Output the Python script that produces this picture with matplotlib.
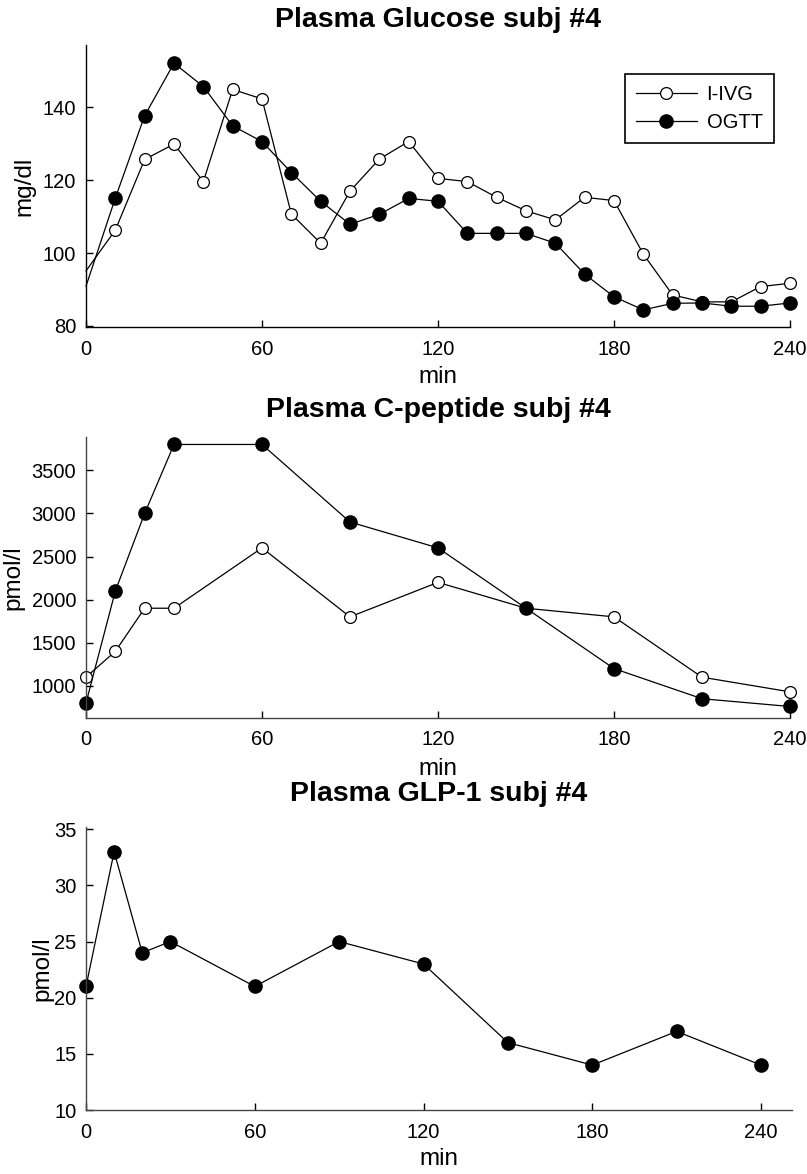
import matplotlib
matplotlib.use("Agg")
import matplotlib.pyplot as plt

plt.rcParams['font.family'] = ['Liberation Sans', 'DejaVu Sans']

# Glucose, sampled every 10 min
glucose_min = [0, 10, 20, 30, 40, 50, 60, 70, 80, 90, 100, 110, 120,
               130, 140, 150, 160, 170, 180, 190, 200, 210, 220, 230, 240]
glucose_ivg = [95.1, 106.3, 125.7, 129.9, 119.6, 144.9, 142.3, 110.7, 102.7,
               117.0, 125.8, 130.6, 120.5, 119.6, 115.3, 111.6, 109.1, 115.3,
               114.4, 99.7, 88.5, 86.6, 86.6, 90.8, 91.7]
glucose_ogtt = [90.9, 115.1, 137.7, 152.1, 145.7, 134.9, 130.6, 122.1, 114.2,
                107.9, 110.6, 115.0, 114.2, 105.4, 105.4, 105.4, 102.7, 94.2,
                88.0, 84.4, 86.2, 86.3, 85.4, 85.4, 86.3]

# C-peptide and GLP-1 sampling times
hormone_min = [0, 10, 20, 30, 60, 90, 120, 150, 180, 210, 240]
cpep_ivg = [1100, 1400, 1900, 1900, 2600, 1800, 2200, 1900, 1800, 1100, 930]
cpep_ogtt = [800, 2100, 3000, 3800, 3800, 2900, 2600, 1900, 1200, 850, 760]
glp1_ogtt = [21, 33, 24, 25, 21, 25, 23, 16, 14, 17, 14]

xticks = [0, 60, 120, 180, 240]

W, H = 807, 1174
fig = plt.figure(figsize=(W / 100, H / 100), dpi=100)


def make_axes(left, right, top, bottom):
    return fig.add_axes([left / W, 1 - bottom / H, (right - left) / W, (bottom - top) / H])


def style(ax, spine_color, ylab, ylab_x, title, title_pad, xlab_y):
    for s in ('top', 'right'):
        ax.spines[s].set_visible(False)
    for s in ('left', 'bottom'):
        ax.spines[s].set_color(spine_color)
        ax.spines[s].set_linewidth(1.0)
    ax.tick_params(direction='in', length=5, width=1.0, colors='black',
                   labelsize=14.5, pad=7)
    ax.tick_params(axis='x', pad=9)
    ax.set_xticks(xticks)
    ax.set_ylabel(ylab, fontsize=17.5)
    ax.yaxis.set_label_coords(ylab_x, 0.5)
    ax.set_xlabel('min', fontsize=17.5)
    ax.xaxis.set_label_coords(0.5, xlab_y)
    ax.set_title(title, fontsize=20.5, fontweight='bold', pad=title_pad)
    ax.patch.set_alpha(0)


open_kw = dict(color='black', lw=0.9, marker='o', ms=8.5, mfc='white',
               mec='black', mew=0.9)
fill_kw = dict(color='black', lw=0.9, marker='o', ms=9.5, mfc='black',
               mec='black')

# --- Glucose ---
ax1 = make_axes(86, 790, 45, 327)
ax1.plot(glucose_min, glucose_ivg, markevery=slice(1, None), label='I-IVG',
         clip_on=False, **open_kw)
ax1.plot(glucose_min, glucose_ogtt, markevery=slice(1, None), label='OGTT',
         clip_on=False, **fill_kw)
ax1.set_xlim(0, 240)
ax1.set_ylim(79.7, 157.1)
ax1.set_yticks([80, 100, 120, 140])
style(ax1, 'black', 'mg/dl', -0.072, 'Plasma Glucose subj #4', 13, -0.14)
leg = ax1.legend(loc='upper right', bbox_to_anchor=(0.977, 0.897),
                 borderaxespad=0, fancybox=False, framealpha=1,
                 edgecolor='black', fontsize=14.5, handlelength=3.0,
                 handletextpad=0.5, borderpad=0.55, labelspacing=0.45)
leg.get_frame().set_linewidth(1.2)

# --- C-peptide ---
ax2 = make_axes(86, 790, 436.7, 717.7)
ax2.plot(hormone_min, cpep_ivg, clip_on=False, **open_kw)
ax2.plot(hormone_min, cpep_ogtt, clip_on=False, **fill_kw)
ax2.set_xlim(0, 240)
ax2.set_ylim(630, 3890)
ax2.set_yticks([1000, 1500, 2000, 2500, 3000, 3500])
style(ax2, '#444444', 'pmol/l', -0.088, 'Plasma C-peptide subj #4', 14.5, -0.145)

# --- GLP-1 ---
ax3 = make_axes(86, 792, 827, 1110)
ax3.plot(hormone_min, glp1_ogtt, clip_on=False, **fill_kw)
ax3.set_xlim(0, 251)
ax3.set_ylim(10, 35.2)
ax3.set_yticks([10, 15, 20, 25, 30, 35])
style(ax3, '#444444', 'pmol/l', -0.046, 'Plasma GLP-1 subj #4', 19, -0.135)

fig.savefig('out.png', dpi=100)
